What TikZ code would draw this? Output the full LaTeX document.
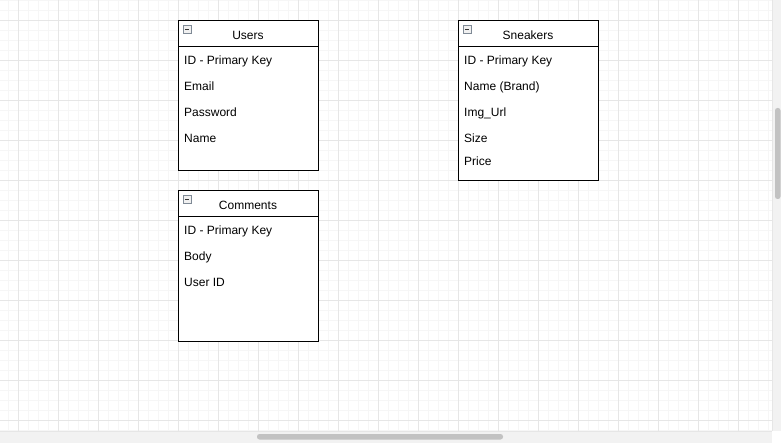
\documentclass[tikz,border=0pt]{standalone}
\usepackage{fontspec}
\setmainfont{Liberation Sans}
\definecolor{minorline}{HTML}{F6F6F6}
\definecolor{majorline}{HTML}{E6E6E6}
\definecolor{scrolltrack}{HTML}{F2F2F2}
\definecolor{scrollthumb}{HTML}{C2C2C2}
\definecolor{iconedge}{HTML}{7F8A96}
\begin{document}
\begin{tikzpicture}
[
x=1pt, y=-1pt,
entitybox/.style={rectangle, draw=black, line width=1pt, minimum width=140pt, anchor=north west, inner sep=0},
entitytitle/.style={font=\fontsize{12}{14}\selectfont, anchor=base, inner sep=0},
fieldtext/.style={font=\fontsize{12}{14}\selectfont, anchor=base west, inner sep=0},
collapseicon/.style={rectangle, draw=iconedge, fill=gray!12, line width=0.7pt, minimum size=7.5pt, inner sep=0, anchor=north west}
]
\useasboundingbox (0,0) rectangle (781,443);
\fill[white] (0,0) rectangle (781,443);
%Grid
\foreach \gx in {8.5,18.5,...,772} {\draw[minorline, line width=0.6pt] (\gx,0) -- (\gx,431);}
\foreach \gy in {0.5,10.5,...,431} {\draw[minorline, line width=0.6pt] (0,\gy) -- (772,\gy);}
\foreach \gx in {18.5,58.5,...,772} {\draw[majorline, line width=0.8pt] (\gx,0) -- (\gx,431);}
\foreach \gy in {20.5,60.5,...,431} {\draw[majorline, line width=0.8pt] (0,\gy) -- (772,\gy);}
%Scrollbars
\fill[scrolltrack] (772,0) rectangle (781,431);
\draw[majorline, line width=0.8pt] (772.5,0) -- (772.5,431);
\fill[scrolltrack] (0,431) rectangle (772,443);
\draw[majorline, line width=0.8pt] (0,431.5) -- (772,431.5);
\fill[scrollthumb, rounded corners=2.5pt] (775,108) rectangle (780.5,199);
\fill[scrollthumb, rounded corners=2.5pt] (257,434) rectangle (503,439.5);
%Nodes
\node[entitybox, fill=white, minimum height=150pt] at(178,20.5)		(users) {};
\node[entitybox, fill=white, minimum height=160pt] at(458,20.5)		(sneakers) {};
\node[entitybox, fill=white, minimum height=150pt] at(178,190.5)		(comments) {};
\draw[line width=1pt] ([yshift=-26pt]users.north west) -- ([yshift=-26pt]users.north east);
\draw[line width=1pt] ([yshift=-26pt]sneakers.north west) -- ([yshift=-26pt]sneakers.north east);
\draw[line width=1pt] ([yshift=-26pt]comments.north west) -- ([yshift=-26pt]comments.north east);
\node[collapseicon] at(183,25.5)		(usersicon) {};
\node[collapseicon] at(463,25.5)		(sneakersicon) {};
\node[collapseicon] at(183,195.5)		(commentsicon) {};
\draw[black!80, line width=0.8pt] ([xshift=1.8pt]usersicon.west) -- ([xshift=-1.8pt]usersicon.east);
\draw[black!80, line width=0.8pt] ([xshift=1.8pt]sneakersicon.west) -- ([xshift=-1.8pt]sneakersicon.east);
\draw[black!80, line width=0.8pt] ([xshift=1.8pt]commentsicon.west) -- ([xshift=-1.8pt]commentsicon.east);
\node[entitytitle]		(t1) at(248,39.5) {Users};
\node[entitytitle]		(t2) at(528,39.5) {Sneakers};
\node[entitytitle]		(t3) at(248,209.5) {Comments};
\node[fieldtext]		(u1) at(184,64.5) {ID - Primary Key};
\node[fieldtext]		(u2) at(184,90.5) {Email};
\node[fieldtext]		(u3) at(184,116.5) {Password};
\node[fieldtext]		(u4) at(184,142.5) {Name};
\node[fieldtext]		(s1) at(464,64.5) {ID - Primary Key};
\node[fieldtext]		(s2) at(464,90.5) {Name (Brand)};
\node[fieldtext]		(s3) at(464,116.5) {Img\_Url};
\node[fieldtext]		(s4) at(464,142.5) {Size};
\node[fieldtext]		(s5) at(464,165.5) {Price};
\node[fieldtext]		(c1) at(184,234.5) {ID - Primary Key};
\node[fieldtext]		(c2) at(184,260.5) {Body};
\node[fieldtext]		(c3) at(184,286.5) {User ID};
\end{tikzpicture}
\end{document}
